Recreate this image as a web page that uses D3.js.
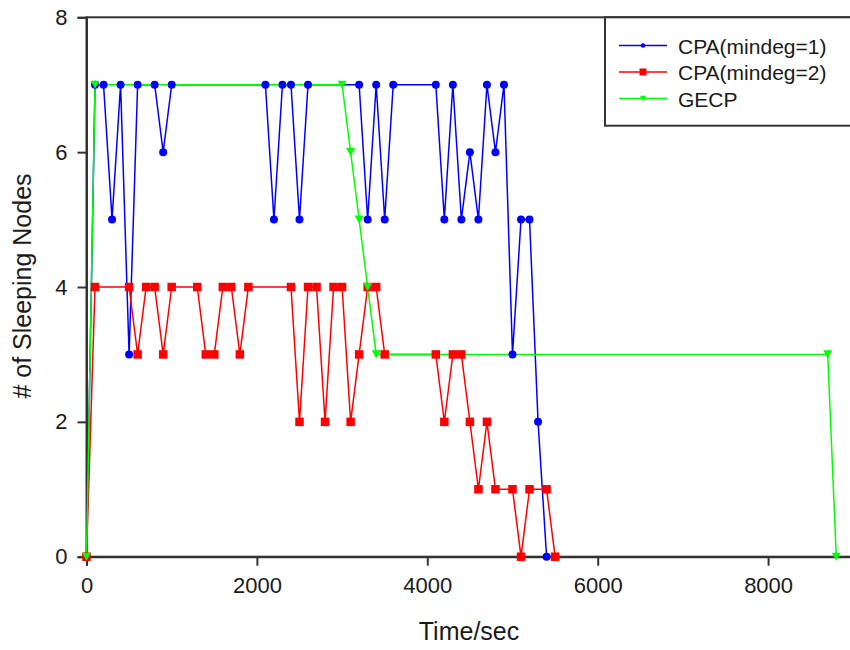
<!DOCTYPE html>
<html>
<head>
<meta charset="utf-8">
<script src="https://cdn.jsdelivr.net/npm/d3@7"></script>
<style>
  html, body { margin: 0; padding: 0; background: #fff; }
  svg { display: block; font-family: Arial, "Liberation Sans", sans-serif; }
</style>
</head>
<body>
<svg id="chart" width="850" height="650"></svg>
<script>
// Sleeping nodes over time for three coverage protocols
const cpa1Time  = [0, 100, 200, 300, 400, 500, 600, 800, 900, 1000, 2100, 2200, 2300, 2400, 2500, 2600, 3200, 3300, 3400, 3500, 3600, 4100, 4200, 4300, 4400, 4500, 4600, 4700, 4800, 4900, 5000, 5100, 5200, 5300, 5400];
const cpa1Nodes = [0, 7, 7, 5, 7, 3, 7, 7, 6, 7, 7, 5, 7, 7, 5, 7, 7, 5, 7, 5, 7, 7, 5, 7, 5, 6, 5, 7, 6, 7, 3, 5, 5, 2, 0];

const cpa2Time  = [0, 100, 500, 600, 700, 800, 900, 1000, 1300, 1400, 1500, 1600, 1700, 1800, 1900, 2400, 2500, 2600, 2700, 2800, 2900, 3000, 3100, 3200, 3300, 3400, 3500, 4100, 4200, 4300, 4400, 4500, 4600, 4700, 4800, 5000, 5100, 5200, 5400, 5500];
const cpa2Nodes = [0, 4, 4, 3, 4, 4, 3, 4, 4, 3, 3, 4, 4, 3, 4, 4, 2, 4, 4, 2, 4, 4, 2, 3, 4, 4, 3, 3, 2, 3, 3, 2, 1, 2, 1, 1, 0, 1, 1, 0];

const gecpTime  = [0, 100, 3000, 3100, 3200, 3300, 3400, 8700, 8800];
const gecpNodes = [0, 7, 7, 6, 5, 4, 3, 3, 0];

const seriesNames  = ["CPA(mindeg=1)", "CPA(mindeg=2)", "GECP"];
const seriesColors = ["#0000ff", "#ff0000", "#00ff00"];
const xTicks = [0, 2000, 4000, 6000, 8000];
const yTicks = [0, 2, 4, 6, 8];

const zip = (t, v) => t.map((d, i) => ({ t: d, v: v[i] }));
const series = [
  { name: seriesNames[0], color: seriesColors[0], shape: "circle",   pts: zip(cpa1Time, cpa1Nodes) },
  { name: seriesNames[1], color: seriesColors[1], shape: "square",   pts: zip(cpa2Time, cpa2Nodes) },
  { name: seriesNames[2], color: seriesColors[2], shape: "triangle", pts: zip(gecpTime, gecpNodes) }
];

const svg = d3.select("#chart");
const plotLeft = 86.5, plotRight = 853.3, plotTop = 17.3, plotBottom = 556.7;
const x = d3.scaleLinear().domain([0, 9000]).range([plotLeft, plotRight]);
const y = d3.scaleLinear().domain([0, 8]).range([plotBottom, plotTop]);
const axisColor = "#333";

// Frame
svg.append("rect")
  .attr("x", plotLeft).attr("y", plotTop)
  .attr("width", plotRight - plotLeft).attr("height", plotBottom - plotTop)
  .attr("fill", "none").attr("stroke", axisColor).attr("stroke-width", 2);

// Axes
const xAxis = svg.append("g").attr("transform", `translate(0,${plotBottom})`)
  .call(d3.axisBottom(x).tickValues(xTicks).tickFormat(d3.format("d")).tickSize(9).tickPadding(12));
const yAxis = svg.append("g").attr("transform", `translate(${plotLeft},0)`)
  .call(d3.axisLeft(y).tickValues(yTicks).tickFormat(d3.format("d")).tickSize(9).tickPadding(10));
[xAxis, yAxis].forEach(g => {
  g.select(".domain").attr("stroke", axisColor).attr("stroke-width", 2);
  g.selectAll(".tick line").attr("stroke", axisColor).attr("stroke-width", 2);
  g.selectAll(".tick text").attr("fill", "#1a1a1a").style("font-size", "22px")
    .style("font-family", "Arial, 'Liberation Sans', sans-serif");
});

// Axis titles
svg.append("text").attr("x", 469).attr("y", 640).attr("text-anchor", "middle")
  .attr("fill", "#1a1a1a").style("font-size", "25px").text("Time/sec");
svg.append("text").attr("transform", "translate(31,286) rotate(-90)").attr("text-anchor", "middle")
  .attr("fill", "#1a1a1a").style("font-size", "25px").text("# of Sleeping Nodes");

// Marker drawing
function marker(g, shape, color, s) {
  if (shape === "circle") {
    g.append("circle").attr("r", s / 2).attr("fill", color);
  } else if (shape === "square") {
    g.append("rect").attr("x", -s / 2).attr("y", -s / 2).attr("width", s).attr("height", s).attr("fill", color);
  } else {
    const h = s * 0.5;
    g.append("path").attr("d", `M${-h},${-h * 0.9}L${h},${-h * 0.9}L0,${h * 0.9}Z`).attr("fill", color);
  }
}

const line = d3.line().x(d => x(d.t)).y(d => y(d.v));

// Lines first, markers on top
series.forEach(s => {
  svg.append("path").datum(s.pts).attr("d", line)
    .attr("fill", "none").attr("stroke", s.color).attr("stroke-width", 1.5);
});
const markerSize = { circle: 8, square: 8.5, triangle: 9 };
series.forEach(s => {
  svg.append("g").selectAll("g").data(s.pts).join("g")
    .attr("transform", d => `translate(${x(d.t)},${y(d.v)})`)
    .each(function () { marker(d3.select(this), s.shape, s.color, markerSize[s.shape]); });
});

// Legend
const legend = svg.append("g");
legend.append("rect").attr("x", 605).attr("y", plotTop).attr("width", 260).attr("height", 125.7 - plotTop)
  .attr("fill", "#fff").attr("stroke", axisColor).attr("stroke-width", 2);
const legendMarkerSize = { circle: 4.5, square: 7, triangle: 6 };
series.forEach((s, i) => {
  const ly = 45.5 + i * 26.5;
  legend.append("line").attr("x1", 619).attr("x2", 667).attr("y1", ly).attr("y2", ly)
    .attr("stroke", s.color).attr("stroke-width", 1.5);
  const m = legend.append("g").attr("transform", `translate(643,${ly})`);
  marker(m, s.shape, s.color, legendMarkerSize[s.shape]);
  legend.append("text").attr("x", 678).attr("y", ly + 8).attr("fill", "#1a1a1a")
    .style("font-size", "21px").text(s.name);
});
</script>
</body>
</html>
